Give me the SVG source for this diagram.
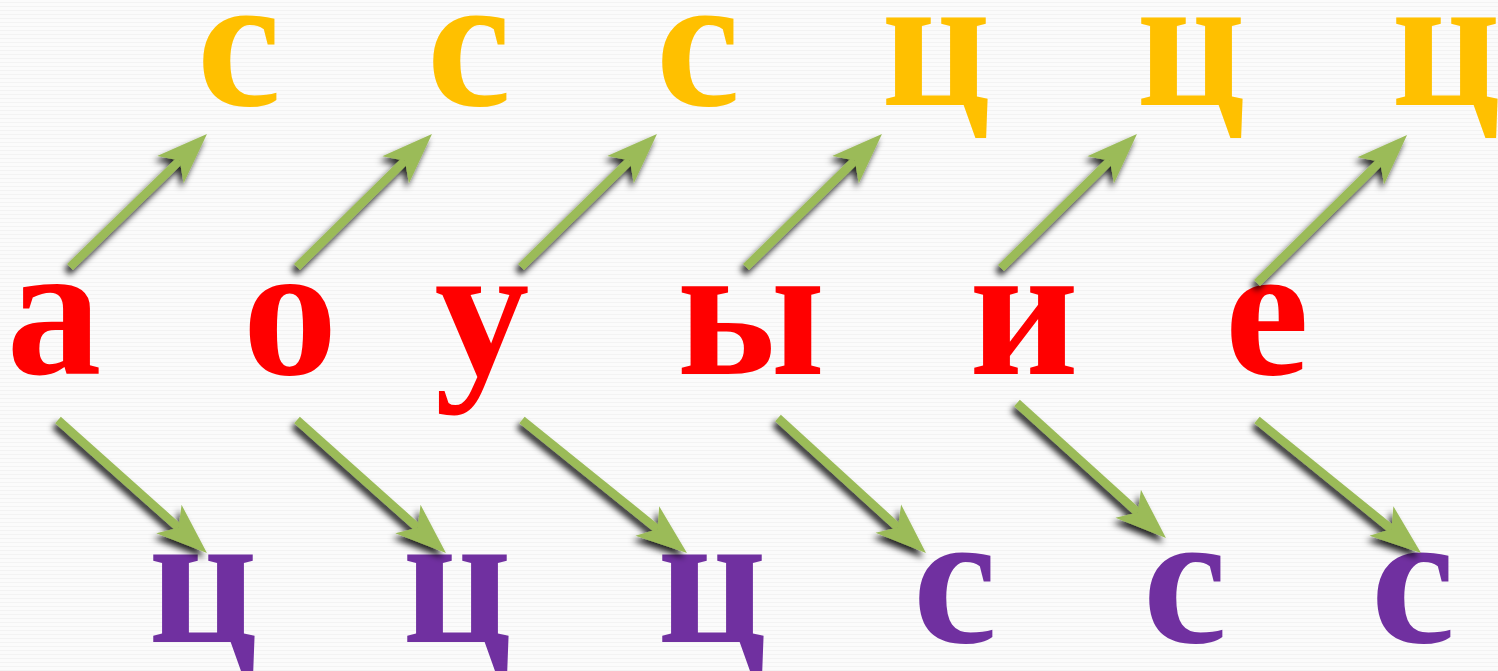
<svg xmlns="http://www.w3.org/2000/svg" width="1498" height="671" viewBox="0 0 1498 671">
  <defs>
    <pattern id="bgp" width="6" height="4" patternUnits="userSpaceOnUse">
      <rect width="6" height="4" fill="#fbfbfb"/>
      <rect y="2" width="6" height="1" fill="#f3f3f3"/>
    </pattern>
    <filter id="sh" filterUnits="userSpaceOnUse" x="0" y="0" width="1498" height="671">
      <feDropShadow dx="-3" dy="5" stdDeviation="3" flood-color="#000" flood-opacity="0.85"/>
    </filter>
    <marker id="ah" markerUnits="userSpaceOnUse" orient="auto" refX="0" refY="0" markerWidth="80" markerHeight="80" overflow="visible">
      <path d="M38,0 L-13,-19 L0,0 L-13,19 Z" fill="#9BBB59"/>
    </marker>
  </defs>
  <style>
    .t { font-family: "Liberation Serif", "Times New Roman", serif; font-weight: bold; font-size: 190px; text-anchor: middle; }
    .y { fill: #FFC000; }
    .r { fill: #FF0000; }
    .p { fill: #7030A0; }
    .a { stroke: #9BBB59; stroke-width: 8.5; fill: none; stroke-linecap: butt; marker-end: url(#ah); }
  </style>
  <rect width="1498" height="671" fill="url(#bgp)"/>

  <g id="top-row">
    <g id="t1"><text class="t y" x="239" y="105">с</text></g>
    <g id="t2"><text class="t y" x="469" y="105">с</text></g>
    <g id="t3"><text class="t y" x="698" y="105">с</text></g>
    <g id="t4"><text class="t y" x="936" y="105">ц</text></g>
    <g id="t5"><text class="t y" x="1191" y="105">ц</text></g>
    <g id="t6"><text class="t y" x="1446" y="105">ц</text></g>
  </g>
  <g id="mid-row">
    <g id="m1"><text class="t r" x="54" y="374">а</text></g>
    <g id="m2"><text class="t r" x="290" y="374">о</text></g>
    <g id="m3"><text class="t r" x="482" y="374">у</text></g>
    <g id="m4"><text class="t r" x="751" y="374">ы</text></g>
    <g id="m5"><text class="t r" x="1024" y="374">и</text></g>
    <g id="m6"><text class="t r" x="1267" y="374">е</text></g>
  </g>
  <g id="bottom-row">
    <g id="b1"><text class="t p" x="203" y="642">ц</text></g>
    <g id="b2"><text class="t p" x="457" y="642">ц</text></g>
    <g id="b3"><text class="t p" x="712" y="642">ц</text></g>
    <g id="b4"><text class="t p" x="955" y="642">с</text></g>
    <g id="b5"><text class="t p" x="1185" y="642">с</text></g>
    <g id="b6"><text class="t p" x="1413" y="642">с</text></g>
  </g>

  <g id="connectors" filter="url(#sh)">
    <path class="a" d="M70,267 L179.7,160.5"/>
    <path class="a" d="M297,267 L404.9,160.7"/>
    <path class="a" d="M521,267 L629.8,160.6"/>
    <path class="a" d="M746,267 L854.8,160.6"/>
    <path class="a" d="M1001,268 L1109.9,160.7"/>
    <path class="a" d="M1257,283 L1380,161.7"/>
    <path class="a" d="M58,420 L178.6,527.7"/>
    <path class="a" d="M297,420 L417.6,527.7"/>
    <path class="a" d="M522,420 L657.4,529.2"/>
    <path class="a" d="M778,418 L897.9,527.4"/>
    <path class="a" d="M1017,403 L1137.8,512.5"/>
    <path class="a" d="M1257,420 L1391.5,529.1"/>
  </g>
</svg>
